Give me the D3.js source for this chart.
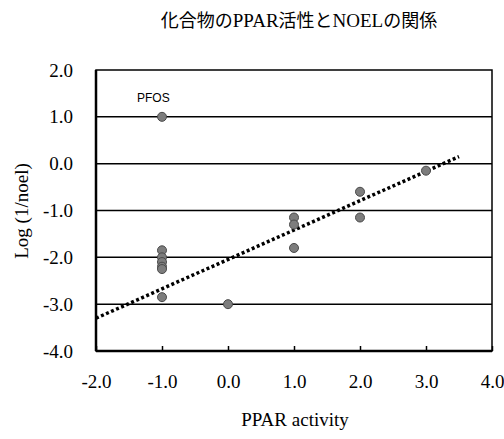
<!DOCTYPE html>
<html>
<head>
<meta charset="utf-8">
<script src="https://cdn.jsdelivr.net/npm/d3@7"></script>
<style>
body { margin: 0; background: #fff; }
text { font-family: "Liberation Serif", serif; fill: #000; }
</style>
</head>
<body>
<svg id="chart"></svg>
<script>
// ppar activity vs log(1/noel)
var pparX = [-1, -1, -1, -1, -1, -1, -1, 0, 1, 1, 1, 2, 2, 3];
var logNoel = [1.0, -1.85, -2.0, -2.1, -2.2, -2.25, -2.85, -3.0, -1.15, -1.3, -1.8, -0.6, -1.15, -0.15];
var trendX = [-2.0, 3.5];
var trendY = [-3.3, 0.15];
var xTicks = [-2, -1, 0, 1, 2, 3, 4];
var yTicks = [2, 1, 0, -1, -2, -3, -4];
var titleParts = ["化合物の", "PPAR", "活性と", "NOEL", "の関係"];

var width = 504, height = 439;
var mLeft = 96, mRight = 492, mTop = 70, mBottom = 351;

var svg = d3.select("#chart")
    .attr("width", width)
    .attr("height", height);

var xScale = d3.scaleLinear().domain([-2, 4]).range([mLeft, mRight]);
var yScale = d3.scaleLinear().domain([-4, 2]).range([mBottom, mTop]);

var fmt = function(d){ return d3.format(".1f")(d).replace("\u2212", "-"); };

// title, latin parts in serif
var title = svg.append("text")
    .attr("x", 299).attr("y", 27)
    .attr("text-anchor", "middle")
    .style("font-size", "18px");
title.selectAll("tspan")
    .data(titleParts)
    .enter()
    .append("tspan")
    .style("font-family", function(d){
        return /^[A-Z]+$/.test(d) ? "Liberation Serif" : "Noto Sans CJK JP";
    })
    .style("font-size", function(d){ return /^[A-Z]+$/.test(d) ? "19px" : "18px"; })
    .text(function(d){ return d; });

// grid lines
svg.append("g")
    .selectAll("line")
    .data([1, 0, -1, -2, -3])
    .enter()
    .append("line")
    .attr("x1", mLeft).attr("x2", mRight)
    .attr("y1", function(d){ return yScale(d); })
    .attr("y2", function(d){ return yScale(d); })
    .style("stroke", "#000")
    .style("stroke-width", 1.5);

// frame
svg.append("rect")
    .attr("x", mLeft).attr("y", mTop)
    .attr("width", mRight - mLeft).attr("height", mBottom - mTop)
    .attr("fill", "none")
    .style("stroke", "#000")
    .style("stroke-width", 1.5);
svg.append("line")
    .attr("x1", mLeft).attr("x2", mLeft).attr("y1", mTop).attr("y2", mBottom)
    .style("stroke", "#000").style("stroke-width", 2.5);
svg.append("line")
    .attr("x1", mLeft).attr("x2", mRight).attr("y1", mBottom).attr("y2", mBottom)
    .style("stroke", "#000").style("stroke-width", 2.5);

// axes
var xAxis = d3.axisBottom(xScale)
    .tickValues(xTicks)
    .tickSizeInner(-5)
    .tickSizeOuter(0)
    .tickPadding(24)
    .tickFormat(fmt);
var gx = svg.append("g")
    .attr("transform", "translate(0," + mBottom + ")")
    .call(xAxis);
gx.select(".domain").remove();
gx.selectAll("line").style("stroke-width", 1.5);
gx.selectAll("text")
    .style("font-size", "19px")
    .style("font-family", "Liberation Serif");

var yAxis = d3.axisLeft(yScale)
    .tickValues(yTicks)
    .tickSizeInner(0)
    .tickSizeOuter(0)
    .tickPadding(23)
    .tickFormat(fmt);
var gy = svg.append("g")
    .attr("transform", "translate(" + mLeft + ",0)")
    .call(yAxis);
gy.select(".domain").remove();
gy.selectAll("text")
    .style("font-size", "19px")
    .style("font-family", "Liberation Serif");

// axis titles
svg.append("text")
    .attr("x", 295).attr("y", 426)
    .attr("text-anchor", "middle")
    .style("font-size", "19px")
    .text("PPAR activity");
svg.append("text")
    .attr("transform", "translate(28,211) rotate(-90)")
    .attr("text-anchor", "middle")
    .style("font-size", "19px")
    .text("Log (1/noel)");

// trend line
var linegen = d3.line()
    .x(function(d){ return xScale(d[0]); })
    .y(function(d){ return yScale(d[1]); });
svg.append("path")
    .datum(d3.zip(trendX, trendY))
    .attr("d", linegen)
    .attr("fill", "none")
    .style("stroke", "#000")
    .style("stroke-width", 3.5)
    .style("stroke-dasharray", "3,2.5");

// points
svg.append("g")
    .selectAll("circle")
    .data(d3.zip(pparX, logNoel))
    .enter()
    .append("circle")
    .attr("cx", function(d){ return xScale(d[0]); })
    .attr("cy", function(d){ return yScale(d[1]); })
    .attr("r", 4.5)
    .attr("fill", "#7d7d7d")
    .style("stroke", "#4a4a4a")
    .style("stroke-width", 1);

// PFOS label
svg.append("text")
    .attr("x", 137).attr("y", 102)
    .style("font-family", "Liberation Sans, Arial, sans-serif")
    .style("font-size", "12px")
    .text("PFOS");
</script>
</body>
</html>
